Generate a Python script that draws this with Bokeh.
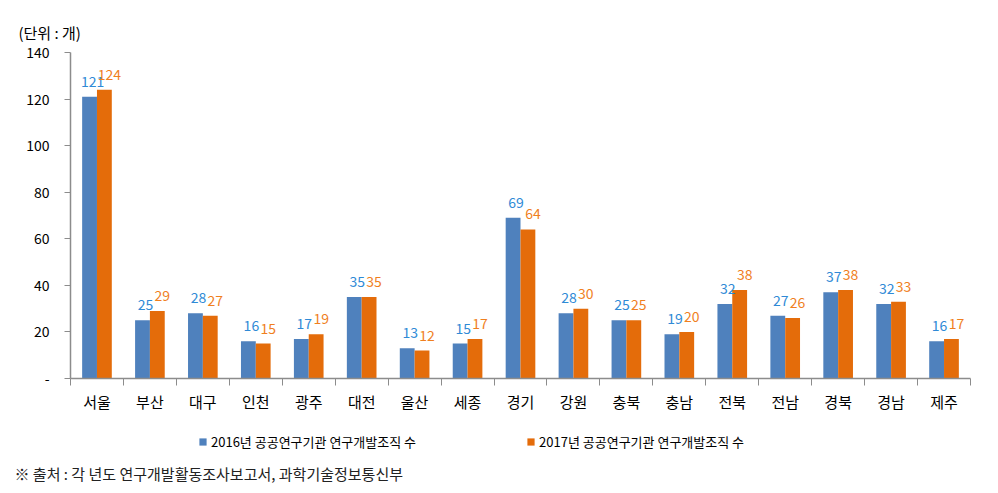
from bokeh.plotting import figure
from bokeh.layouts import column
from bokeh.models import ColumnDataSource, FixedTicker, Range1d, Legend, LegendItem, Title
from bokeh.core.properties import value
from bokeh.embed import file_html
from bokeh.resources import INLINE

regions = ["서울", "부산", "대구", "인천", "광주", "대전", "울산", "세종", "경기",
           "강원", "충북", "충남", "전북", "전남", "경북", "경남", "제주"]
v2016 = [121, 25, 28, 16, 17, 35, 13, 15, 69, 28, 25, 19, 32, 27, 37, 32, 16]
v2017 = [124, 29, 27, 15, 19, 35, 12, 17, 64, 30, 25, 20, 38, 26, 38, 33, 17]
y_ticks = [0, 20, 40, 60, 80, 100, 120, 140]
y_tick_labels = ["-", "20", "40", "60", "80", "100", "120", "140"]
series_names = ["2016년 공공연구기관 연구개발조직 수", "2017년 공공연구기관 연구개발조직 수"]
unit_text = "(단위 : 개)"
source_text = "※  출처 :  각 년도 연구개발활동조사보고서, 과학기술정보통신부"

FONT = "Noto Sans CJK KR"
BLUE = "#4F81BD"
ORANGE = "#E46C0A"
BLUE_TXT = "#2F8AD6"
ORANGE_TXT = "#F07F1E"
AXIS = "#8C8C8C"
BW = 0.28

n = len(regions)
centers = [i + 0.5 for i in range(n)]
src = ColumnDataSource(dict(
    xc=centers,
    x1=[c - BW / 2 for c in centers],
    x2=[c + BW / 2 for c in centers],
    v1=v2016, v2=v2017,
    t1=[str(v) for v in v2016], t2=[str(v) for v in v2017],
))

p = figure(width=998, height=422, output_backend="svg", toolbar_location=None,
           x_range=Range1d(0, n), y_range=Range1d(0, 140),
           min_border_left=70, min_border_right=28, min_border_top=52, min_border_bottom=44)
p.outline_line_color = None
p.background_fill_color = "white"
p.border_fill_color = "white"
p.xgrid.visible = False
p.ygrid.visible = False

r1 = p.vbar(x="x1", top="v1", width=BW, source=src, fill_color=BLUE, line_color=None)
r2 = p.vbar(x="x2", top="v2", width=BW, source=src, fill_color=ORANGE, line_color=None)

p.text(x="x1", y="v1", text="t1", source=src, text_font=value(FONT), text_font_size="14px",
       text_color=BLUE_TXT, text_align="center", text_baseline="bottom", x_offset=3, y_offset=-10)
p.text(x="x2", y="v2", text="t2", source=src, text_font=value(FONT), text_font_size="14px",
       text_color=ORANGE_TXT, text_align="center", text_baseline="bottom", x_offset=5, y_offset=-10)

# x axis
p.xaxis.ticker = FixedTicker(ticks=centers, minor_ticks=list(range(n + 1)))
p.xaxis.major_label_overrides = {c: r for c, r in zip(centers, regions)}
p.xaxis.major_tick_line_color = None
p.xaxis.major_tick_out = 0
p.xaxis.major_tick_in = 0
p.xaxis.minor_tick_out = 7
p.xaxis.minor_tick_in = 0
p.xaxis.minor_tick_line_color = AXIS
p.xaxis.axis_line_color = AXIS
p.xaxis.axis_line_width = 1.5
p.xaxis.major_label_text_font = FONT
p.xaxis.major_label_text_font_size = "15px"
p.xaxis.major_label_text_color = "#000000"
p.xaxis.major_label_standoff = 5

# y axis
p.yaxis.ticker = FixedTicker(ticks=y_ticks, minor_ticks=[])
p.yaxis.major_label_overrides = {t: l for t, l in zip(y_ticks, y_tick_labels)}
p.yaxis.major_tick_out = 6
p.yaxis.major_tick_in = 0
p.yaxis.major_tick_line_color = AXIS
p.yaxis.minor_tick_line_color = None
p.yaxis.axis_line_color = AXIS
p.yaxis.axis_line_width = 1.5
p.yaxis.major_label_text_font = FONT
p.yaxis.major_label_text_font_size = "14px"
p.yaxis.major_label_text_color = "#000000"
p.yaxis.major_label_standoff = 15

head = Title(text=unit_text, align="left", text_font=FONT, text_font_size="15px",
             text_font_style="normal", text_color="#000000", offset=-52, standoff=20)
p.add_layout(head, "above")

# legend + footnote strip
q = figure(width=998, height=71, output_backend="svg", toolbar_location=None,
           x_range=Range1d(0, 1), y_range=Range1d(0, 1),
           x_axis_location=None, y_axis_location=None,
           min_border_left=70, min_border_right=28, min_border_top=0, min_border_bottom=33)
q.outline_line_color = None
q.xgrid.visible = False
q.ygrid.visible = False
q1 = q.vbar(x=[-100], top=[0], width=0, fill_color=BLUE, line_color=None)
q2 = q.vbar(x=[-100], top=[0], width=0, fill_color=ORANGE, line_color=None)
legend = Legend(items=[LegendItem(label=series_names[0], renderers=[q1]),
                       LegendItem(label=series_names[1], renderers=[q2])],
                orientation="horizontal", location=(128, 9),
                label_text_font=FONT, label_text_font_size="13px", label_text_color="#000000",
                glyph_width=9, glyph_height=9, label_standoff=4, spacing=110,
                border_line_color=None, background_fill_alpha=0, margin=0, padding=4)
q.add_layout(legend, "center")
foot = Title(text=source_text, align="left", text_font=FONT, text_font_size="15px",
             text_font_style="normal", text_color="#222222", offset=-56, standoff=0)
q.add_layout(foot, "below")

layout = column(p, q, spacing=0)
open("out.html", "w").write(file_html(layout, INLINE))
